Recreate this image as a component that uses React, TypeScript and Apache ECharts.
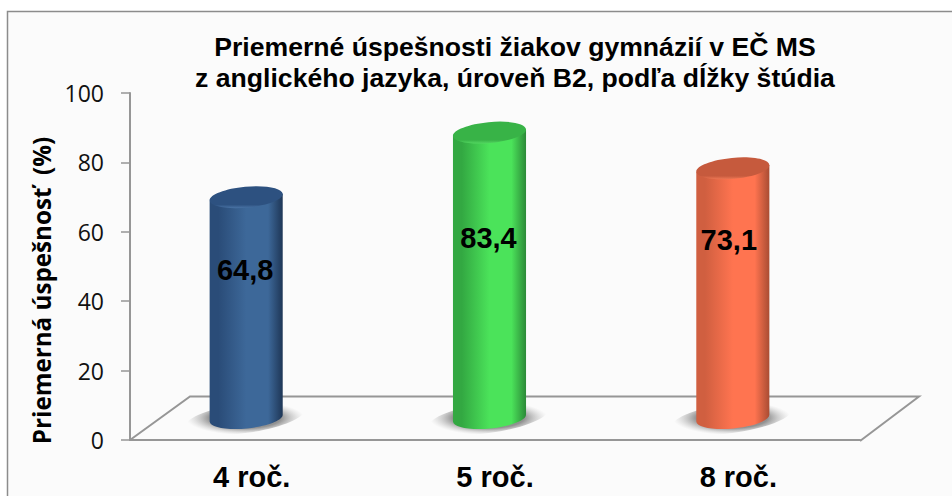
import React, { useEffect, useRef } from "react";
import * as echarts from "echarts";

const categories = ["4 roč.", "5 roč.", "8 roč."];
const values = [64.8, 83.4, 73.1];
const valueLabels = ["64,8", "83,4", "73,1"];
const titleLines = [
  "Priemerné úspešnosti žiakov gymnázií v EČ MS",
  "z anglického jazyka, úroveň B2, podľa dĺžky štúdia",
];
const yAxisTitle = "Priemerná úspešnosť  (%)";

const labelLift = [0.667, 0.629, 0.71];
const labelShift = [-1, -1, -4];
const palettes = [
  { left: "#2a4c78", mid: "#3d6899", right: "#1e3656", cap: "#2d5180", rim: "#4a74a6" },
  { left: "#33a842", mid: "#4be35a", right: "#2c8a38", cap: "#38b347", rim: "#55d862" },
  { left: "#d05f40", mid: "#ff7450", right: "#a94c33", cap: "#c65a3d", rim: "#ee7855" },
];

const KAPPA = 0.5523;
const TILT = (-5.4 * Math.PI) / 180;
const SHADOW_TILT = (-8 * Math.PI) / 180;

function pointOn(s: any, px: number, py: number) {
  const c = Math.cos(s.tilt ?? TILT);
  const n = Math.sin(s.tilt ?? TILT);
  return [s.cx + px * c - py * n, s.cy + px * n + py * c];
}

function arcQuarter(ctx: any, s: any, a: number[], b: number[], c: number[]) {
  const p1 = pointOn(s, a[0], a[1]);
  const p2 = pointOn(s, b[0], b[1]);
  const p3 = pointOn(s, c[0], c[1]);
  ctx.bezierCurveTo(p1[0], p1[1], p2[0], p2[1], p3[0], p3[1]);
}

echarts.graphic.registerShape(
  "tiltedEllipse",
  (echarts.graphic as any).extendShape({
    shape: { cx: 0, cy: 0, rx: 10, ry: 5, tilt: TILT },
    buildPath(ctx: any, s: any) {
      const { rx, ry } = s;
      const k = KAPPA;
      const st = pointOn(s, -rx, 0);
      ctx.moveTo(st[0], st[1]);
      arcQuarter(ctx, s, [-rx, ry * k], [-rx * k, ry], [0, ry]);
      arcQuarter(ctx, s, [rx * k, ry], [rx, ry * k], [rx, 0]);
      arcQuarter(ctx, s, [rx, -ry * k], [rx * k, -ry], [0, -ry]);
      arcQuarter(ctx, s, [-rx * k, -ry], [-rx, -ry * k], [-rx, 0]);
      ctx.closePath();
    },
  })
);

echarts.graphic.registerShape(
  "cylinderBody",
  (echarts.graphic as any).extendShape({
    shape: { cx: 0, cy: 0, topY: 0, rx: 10, ry: 5, tilt: TILT },
    buildPath(ctx: any, s: any) {
      const { rx, ry, cx, topY } = s;
      const k = KAPPA;
      const top = { cx, cy: topY, tilt: s.tilt };
      const tl = pointOn(top, -rx, 0);
      const tr = pointOn(top, rx, 0);
      const bl = pointOn(s, -rx, 0);
      ctx.moveTo(tl[0], tl[1]);
      ctx.lineTo(bl[0], bl[1]);
      arcQuarter(ctx, s, [-rx, ry * k], [-rx * k, ry], [0, ry]);
      arcQuarter(ctx, s, [rx * k, ry], [rx, ry * k], [rx, 0]);
      ctx.lineTo(tr[0], tr[1]);
      ctx.closePath();
    },
  })
);

function linear(p: any) {
  return {
    type: "linear",
    x: 0,
    y: 0,
    x2: 1,
    y2: 0,
    colorStops: [
      { offset: 0, color: p.left },
      { offset: 0.12, color: p.left },
      { offset: 0.5, color: p.mid },
      { offset: 0.8, color: p.mid },
      { offset: 1, color: p.right },
    ],
  };
}

function renderCylinder(params: any, api: any) {
  const i = params.dataIndex;
  const p = palettes[i];
  const top = api.coord([api.value(0), api.value(1)]);
  const base = api.coord([api.value(0), 0]);
  const rx = 36.7;
  const ry = 10.5;
  const topY = top[1] + 4;
  const labelY = base[1] - (base[1] - top[1]) * labelLift[i] + 2;
  return {
    type: "group",
    children: [
      {
        type: "tiltedEllipse",
        shape: { cx: base[0] - 1, cy: base[1], rx: 60, ry: 15, tilt: SHADOW_TILT },
        style: {
          fill: {
            type: "radial",
            x: 0.5,
            y: 0.5,
            r: 0.5,
            colorStops: [
              { offset: 0, color: "rgba(110,110,110,0.95)" },
              { offset: 0.6, color: "rgba(120,120,120,0.8)" },
              { offset: 1, color: "rgba(190,190,190,0)" },
            ],
          },
        },
      },
      {
        type: "cylinderBody",
        shape: { cx: base[0], cy: base[1], topY, rx, ry, tilt: TILT },
        style: { fill: linear(p) },
      },
      {
        type: "tiltedEllipse",
        shape: { cx: top[0], cy: topY, rx, ry, tilt: TILT },
        style: {
          fill: {
            type: "linear",
            x: 0,
            y: 0,
            x2: 0,
            y2: 1,
            colorStops: [
              { offset: 0, color: p.cap },
              { offset: 0.84, color: p.cap },
              { offset: 1, color: p.rim },
            ],
          },
        },
      },
      {
        type: "text",
        x: base[0] + labelShift[i],
        y: labelY,
        z2: 10,
        style: {
          text: valueLabels[i],
          align: "center",
          verticalAlign: "middle",
          fill: "#000000",
          font: 'bold 29px "Liberation Sans", Arial, sans-serif',
        },
      },
    ],
  };
}

export default function App() {
  const ref = useRef<HTMLDivElement>(null);
  useEffect(() => {
    const chart = echarts.init(ref.current!, null, { renderer: "svg" });
    chart.setOption({
      animation: false,
      backgroundColor: "#ffffff",
      title: {
        text: titleLines.join("\n"),
        left: 510,
        top: 26,
        textAlign: "center",
        textStyle: {
          fontFamily: '"Liberation Sans", Arial, sans-serif',
          fontWeight: "bold",
          fontSize: 26.6,
          lineHeight: 31,
          color: "#000000",
        },
      },
      grid: [
        { left: 130, top: 93, width: 730, height: 347 },
        { left: 124.5, top: 71, width: 730, height: 347 },
      ],
      xAxis: [
        {
          type: "category",
          gridIndex: 0,
          data: categories,
          z: 4,
          axisLine: { lineStyle: { color: "#969696", width: 2 } },
          axisTick: { show: false },
          axisLabel: {
            margin: 22,
            color: "#000000",
            fontFamily: '"Liberation Sans", Arial, sans-serif',
            fontWeight: "bold",
            fontSize: 29,
          },
        },
        { type: "category", gridIndex: 1, data: categories, show: false },
      ],
      yAxis: [
        {
          type: "value",
          gridIndex: 0,
          min: 0,
          max: 100,
          interval: 20,
          z: 4,
          name: yAxisTitle,
          nameLocation: "middle",
          nameGap: 73,
          nameTextStyle: {
            fontFamily: '"Open Sans", sans-serif',
            fontWeight: "bold",
            fontSize: 24.2,
            color: "#000000",
            padding: [0, 48, 0, 0],
          },
          splitLine: { show: false },
          axisLine: { show: true, lineStyle: { color: "#969696", width: 2 } },
          axisTick: { show: true, length: 9, lineStyle: { color: "#969696", width: 1.5 } },
          axisLabel: {
            margin: 26,
            color: "#111111",
            fontFamily: '"Open Sans", sans-serif',
            fontSize: 23,
          },
        },
        { type: "value", gridIndex: 1, min: 0, max: 100, show: false },
      ],
      graphic: [
        {
          type: "rect",
          z: -10,
          shape: { x: 7.5, y: 11.5, width: 960, height: 500 },
          style: { fill: "#fbfbfb", stroke: "#8c8c8c", lineWidth: 1.5 },
        },
        {
          type: "polyline",
          z: -5,
          shape: { points: [[130, 440], [190, 396.5], [919, 396.5], [860, 441]] },
          style: { fill: "none", stroke: "#969696", lineWidth: 2 },
        },
      ],
      series: [
        {
          type: "custom",
          xAxisIndex: 1,
          yAxisIndex: 1,
          z: 6,
          clip: false,
          data: values.map((v, i) => [i, v]),
          encode: { x: 0, y: 1 },
          renderItem: renderCylinder,
        },
      ],
    });
    return () => chart.dispose();
  }, []);
  return <div ref={ref} style={{ position: "fixed", left: 0, top: 0, width: 952, height: 496 }} />;
}
